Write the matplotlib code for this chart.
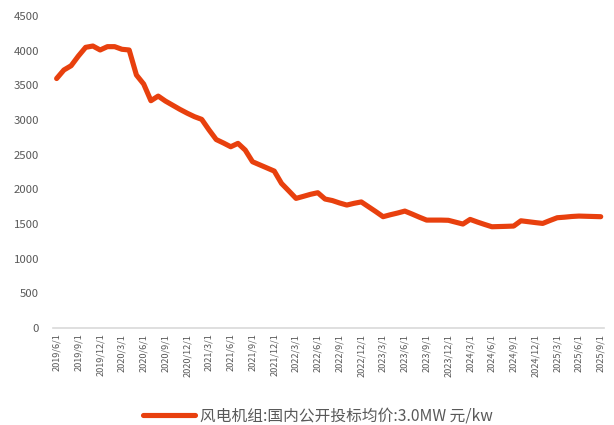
import matplotlib
matplotlib.use("Agg")
import matplotlib.pyplot as plt
import pandas as pd

plt.rcParams['font.family'] = ['Noto Sans CJK SC', 'DejaVu Sans']

months = pd.date_range("2019-06-01", "2025-09-01", freq="MS")
values = [
    3600, 3723, 3785, 3925, 4050, 4069, 4012,            # 2019/6-12
    4060, 4060, 4022, 4012, 3651, 3521, 3280, 3347, 3275, 3215, 3155, 3100,  # 2020
    3050, 3011, 2860, 2720, 2670, 2616, 2665, 2568, 2400, 2355, 2310, 2265,  # 2021
    2087, 1980, 1871, 1900, 1930, 1953, 1862, 1840, 1805, 1775, 1800, 1820,  # 2022
    1750, 1680, 1607, 1635, 1660, 1688, 1645, 1600, 1558, 1558, 1558, 1555,  # 2023
    1528, 1501, 1568, 1530, 1495, 1462, 1465, 1468, 1472, 1548, 1535, 1522,  # 2024
    1510, 1552, 1592, 1600, 1610, 1616, 1613, 1610, 1607,                    # 2025/1-9
]
series_name = "风电机组:国内公开投标均价:3.0MW 元/kw"
tick_labels = [f"{d.year}/{d.month}/1" for d in months]
yticks = [0, 500, 1000, 1500, 2000, 2500, 3000, 3500, 4000, 4500]

line_color = "#E8400E"
text_color = "#595959"

fig = plt.figure(figsize=(6.14, 4.25), dpi=100)
ax = fig.add_axes([0.0863, 0.228, 0.898, 0.734])

x = list(range(len(values)))
ax.plot(x, values, color=line_color, linewidth=3.7, solid_joinstyle='round',
        solid_capstyle='round', label=series_name)

ax.set_xlim(-0.5, len(values) - 0.5)
ax.set_ylim(0, 4500)
ax.set_yticks(yticks)
ax.set_yticklabels([str(v) for v in yticks], fontsize=8.2, color=text_color)
ax.set_xticks(x[::3])
ax.set_xticklabels(tick_labels[::3], rotation=90, fontsize=6.6, color=text_color)
ax.tick_params(axis='both', length=0, pad=4)
ax.tick_params(axis='y', pad=10)

for s in ['top', 'right', 'left']:
    ax.spines[s].set_visible(False)
ax.spines['bottom'].set_color('#D9D9D9')
ax.spines['bottom'].set_linewidth(1.2)

leg = fig.legend(loc='center', bbox_to_anchor=(0.518, 0.021), frameon=False,
                 fontsize=11.3, handlelength=3.3, handletextpad=0.3)
for t in leg.get_texts():
    t.set_color(text_color)

fig.savefig("out.png", dpi=100)
